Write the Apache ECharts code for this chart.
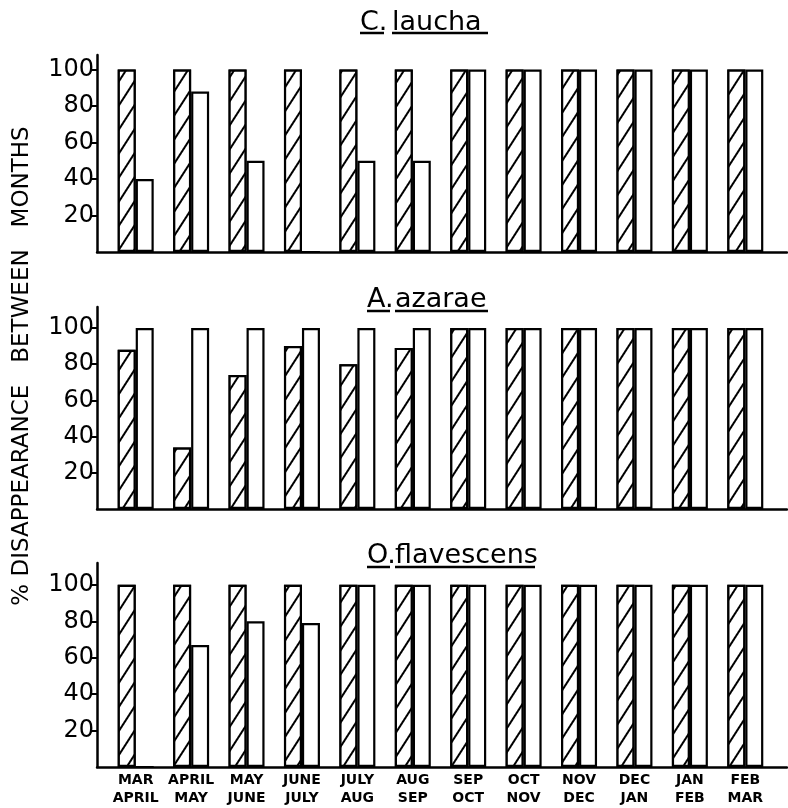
<!DOCTYPE html>
<html><head><meta charset="utf-8">
<script src="https://cdn.jsdelivr.net/npm/echarts@6/dist/echarts.min.js"></script>
<style>html,body{margin:0;padding:0;background:#fff}#c{width:788px;height:808px}</style>
</head><body><div id="c"></div>
<script>
// ---- data ----
const categories = ['MAR\nAPRIL','APRIL\nMAY','MAY\nJUNE','JUNE\nJULY','JULY\nAUG','AUG\nSEP','SEP\nOCT','OCT\nNOV','NOV\nDEC','DEC\nJAN','JAN\nFEB','FEB\nMAR'];
const yTickValues = [20, 40, 60, 80, 100];
const yAxisTitle = '% DISAPPEARANCE   BETWEEN   MONTHS';
const lauchaTitle = ['C.', 'laucha'];
const azaraeTitle = ['A.', 'azarae'];
const flavescensTitle = ['O.', 'flavescens'];
const lauchaHatched = [100,100,100,100,100,100,100,100,100,100,100,100];
const lauchaOpen    = [40,88,50,0,50,50,100,100,100,100,100,100];
const azaraeHatched = [88,34,74,90,80,89,100,100,100,100,100,100];
const azaraeOpen    = [100,100,100,100,100,100,100,100,100,100,100,100];
const flavescensHatched = [100,100,100,100,100,100,100,100,100,100,100,100];
const flavescensOpen    = [0,67,80,79,100,100,100,100,100,100,100,100];

// ---- layout ----
const panels = [
  {top: 55,  height: 197, max: 108, hatched: lauchaHatched, open: lauchaOpen, title: lauchaTitle, tTop: 9, uY: 33, u1: [360, 384], u2: [392, 488]},
  {top: 307, height: 202, max: 111.6, hatched: azaraeHatched, open: azaraeOpen, title: azaraeTitle, tTop: 286, uY: 311, u1: [367, 390], u2: [395, 488]},
  {top: 563, height: 204, max: 112, hatched: flavescensHatched, open: flavescensOpen, title: flavescensTitle, tTop: 542, uY: 567, u1: [367, 390], u2: [395, 535]}
];
const FONT = 'DejaVu Sans';
const grid = [], xAxis = [], yAxis = [], series = [], graphic = [];
const hatchDecal = {symbol: 'rect', symbolSize: 1, dashArrayX: [1, 0], dashArrayY: [1.6, 11], rotation: -1.0, color: '#000', backgroundColor: '#fff'};

panels.forEach((p, i) => {
  const gF = grid.length;
  grid.push({left: 97, right: 1, top: p.top, height: p.height, containLabel: false, outerBoundsMode: 'none'});
  grid.push({left: 108, right: 15, top: p.top, height: p.height, containLabel: false, outerBoundsMode: 'none'});
  // frame axes
  xAxis.push({type: 'value', gridIndex: gF, min: 0, max: 1, axisLine: {show: true, onZero: false, lineStyle: {color: '#000', width: 2.5}},
    axisTick: {show: false}, axisLabel: {show: false}, splitLine: {show: false}});
  yAxis.push({type: 'value', gridIndex: gF, min: 0, max: p.max,
    axisLine: {show: true, lineStyle: {color: '#000', width: 2.5}},
    axisTick: {show: true, length: 6, customValues: yTickValues, lineStyle: {color: '#000', width: 2}},
    axisLabel: {show: true, customValues: yTickValues, margin: 3, color: '#000', fontFamily: FONT, fontSize: 24},
    splitLine: {show: false}});
  // bar axes
  xAxis.push({type: 'category', gridIndex: gF + 1, data: categories,
    axisLine: {show: false}, axisTick: {show: false},
    axisLabel: {show: i === 2, interval: 0, margin: 4, color: '#000', fontFamily: FONT, fontWeight: 'bold', fontSize: 14, lineHeight: 18}});
  yAxis.push({type: 'value', gridIndex: gF + 1, min: 0, max: p.max, show: false});
  const xi = xAxis.length - 1, yi = yAxis.length - 1;
  series.push({type: 'bar', xAxisIndex: xi, yAxisIndex: yi, data: p.hatched, barWidth: 18, barGap: '0%', silent: true,
    itemStyle: {color: '#fff', borderColor: '#000', borderWidth: 2.2, decal: hatchDecal}});
  series.push({type: 'bar', xAxisIndex: xi, yAxisIndex: yi, data: p.open, barWidth: 18, barGap: '0%', silent: true,
    itemStyle: {color: '#fff', borderColor: '#000', borderWidth: 2.2}});
  // titles
  graphic.push({type: 'text', left: p.u1[0], top: p.tTop, style: {text: p.title[0], font: '27px "DejaVu Sans"', fill: '#000'}});
  graphic.push({type: 'text', left: p.u2[0], top: p.tTop, style: {text: p.title[1], font: '27px "DejaVu Sans"', fill: '#000'}});
  graphic.push({type: 'line', shape: {x1: p.u1[0], y1: p.uY, x2: p.u1[1], y2: p.uY}, style: {stroke: '#000', lineWidth: 2.5}});
  graphic.push({type: 'line', shape: {x1: p.u2[0], y1: p.uY, x2: p.u2[1], y2: p.uY}, style: {stroke: '#000', lineWidth: 2.5}});
});
graphic.push({type: 'text', x: 22, y: 366, rotation: Math.PI / 2,
  style: {text: yAxisTitle, font: '23px "DejaVu Sans"', fill: '#000', align: 'center', verticalAlign: 'middle'}});

const chart = echarts.init(document.getElementById('c'), null, {renderer: 'canvas'});
chart.setOption({animation: false, backgroundColor: '#fff', grid, xAxis, yAxis, series, graphic});
</script>
</body></html>
